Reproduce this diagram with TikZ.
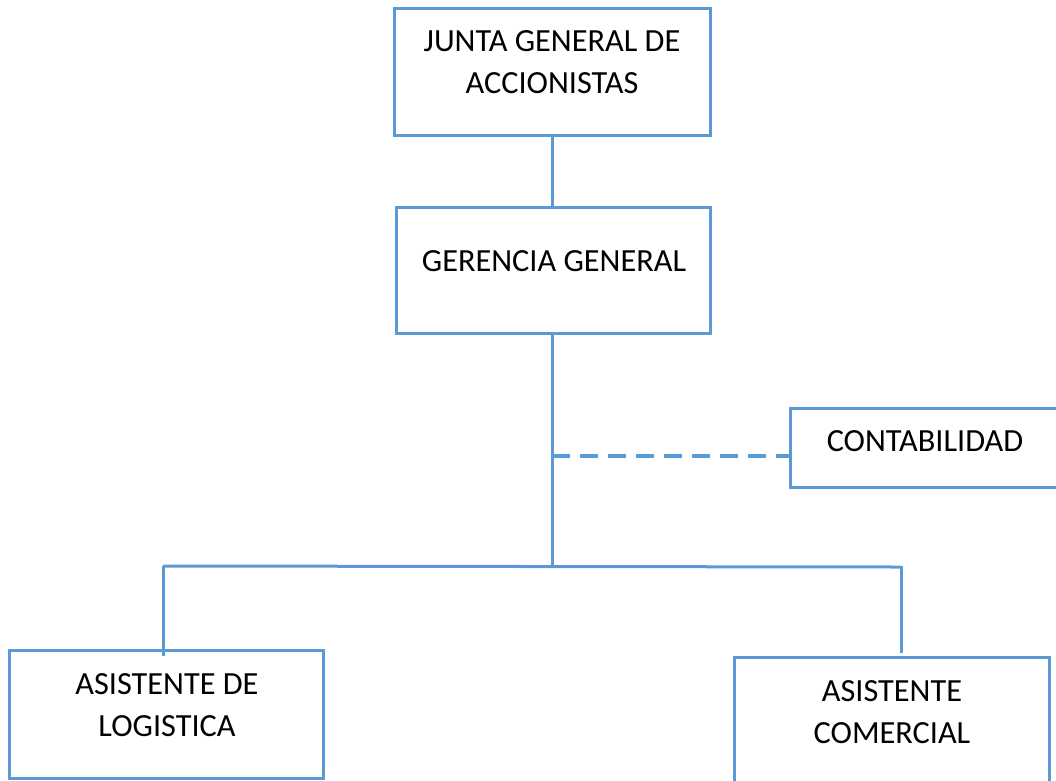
\documentclass[tikz,border=0pt]{standalone}
\usepackage{fontspec}
\setmainfont{Carlito}
\definecolor{lineblue}{HTML}{5B9BD5}
\begin{document}
\begin{tikzpicture}[x=1pt,y=-1pt,
  orgbox/.style={draw=lineblue, line width=3pt, rectangle, inner sep=0pt},
  orgtext/.style={anchor=north, inner sep=0pt, align=center,
    font=\fontsize{32.3}{42.5}\selectfont},
  link/.style={draw=lineblue, line width=3pt},
  advisory/.style={draw=lineblue, line width=3.4pt, dash pattern=on 18pt off 10pt}]
\useasboundingbox (0,0) rectangle (1056,780);

% boxes
\node[orgbox, minimum width=316pt, minimum height=127pt] (junta) at (552,71.5) {};
\node[orgbox, minimum width=314pt, minimum height=126pt] (gerencia) at (553.5,270) {};
\node[orgbox, minimum width=272pt, minimum height=79pt] (contab) at (926,447.5) {};
\node[orgbox, minimum width=314pt, minimum height=128pt] (logistica) at (166.5,714) {};
\node[orgbox, minimum width=315pt, minimum height=130pt] (comercial) at (891.5,722) {};

% labels
\node[orgtext] (junta-t) at (552,30) {JUNTA GENERAL DE\\ACCIONISTAS};
\node[orgtext] (gerencia-t) at (554,250) {GERENCIA GENERAL};
\node[orgtext] (contab-t) at (925,430) {CONTABILIDAD};
\node[orgtext] (logistica-t) at (167,673) {ASISTENTE DE\\LOGISTICA};
\node[orgtext] (comercial-t) at (892,680) {ASISTENTE\\COMERCIAL};

% connectors
\coordinate (hub) at (552,567);
\coordinate (tap) at (552,456);
\coordinate (lft) at (163,566);
\coordinate (rgt) at (901,567);

\draw[link] (junta.south) -- (junta.south |- gerencia.north);
\draw[link] (gerencia.south -| hub) -- (hub);
\draw[advisory] (tap) -- (tap -| contab.west);
\draw[link] (lft) -- (rgt);
\draw[link] (lft) -- ([yshift=-7pt]lft |- logistica.north);
\draw[link] ([yshift=1.5pt]rgt) -- ([yshift=3pt]rgt |- comercial.north);
\end{tikzpicture}
\end{document}
